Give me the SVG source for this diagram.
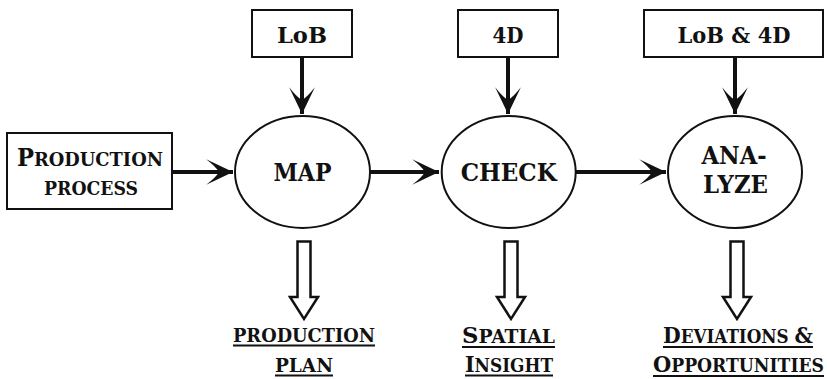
<svg xmlns="http://www.w3.org/2000/svg" width="827" height="379" viewBox="0 0 827 379">
<defs>
<style>
.box{fill:#fff;stroke:#111;stroke-width:2}
.ell{fill:#fff;stroke:#111;stroke-width:2}
.t{font-family:'DejaVu Serif',serif;font-weight:bold;fill:#111;text-anchor:middle}
.conn{stroke:#111;stroke-width:4;fill:none}
.hollow{fill:#fff;stroke:#111;stroke-width:2.5;stroke-linejoin:miter}
.ul{stroke:#111;stroke-width:2}
</style>
<marker id="ah" markerUnits="userSpaceOnUse" markerWidth="30" markerHeight="30" viewBox="-26 -14 28 28" refX="0" refY="0" orient="auto">
<path d="M0,0 L-25,-12 Q-16,-5 -13,0 Q-16,5 -25,12 Z" fill="#111"/>
</marker>
</defs>
<rect width="827" height="379" fill="#fff"/>
<g id="connectors">
<line class="conn" x1="172" y1="172" x2="233" y2="172" marker-end="url(#ah)"/>
<line class="conn" x1="370" y1="172" x2="439" y2="172" marker-end="url(#ah)"/>
<line class="conn" x1="576" y1="172" x2="666" y2="172" marker-end="url(#ah)"/>
<line class="conn" x1="302" y1="57" x2="302" y2="114" marker-end="url(#ah)"/>
<line class="conn" x1="508" y1="57" x2="508" y2="114" marker-end="url(#ah)"/>
<line class="conn" x1="735" y1="57" x2="735" y2="114" marker-end="url(#ah)"/>
<polygon class="hollow" points="297.5,241.5 310.5,241.5 310.5,297 318,297 304,319 290,297 297.5,297"/>
<polygon class="hollow" points="504.5,241.5 517.5,241.5 517.5,297 525,297 511,319 497,297 504.5,297"/>
<polygon class="hollow" points="730.5,241.5 743.5,241.5 743.5,297 751,297 737,319 723,297 730.5,297"/>
</g>
<g id="production-process">
<rect class="box" x="7" y="133" width="165" height="76"/>
<text class="t" x="90" y="166" font-size="18.5" textLength="146" lengthAdjust="spacingAndGlyphs"><tspan font-size="23.5">P</tspan>RODUCTION</text>
<text class="t" x="91" y="195" font-size="18.5" textLength="94" lengthAdjust="spacingAndGlyphs">PROCESS</text>
</g>
<g id="lob">
<rect class="box" x="252" y="10" width="100" height="47"/>
<text class="t" x="302" y="43" font-size="23" textLength="50" lengthAdjust="spacingAndGlyphs">LoB</text>
</g>
<g id="fourd">
<rect class="box" x="458" y="10" width="100" height="47"/>
<text class="t" x="508" y="43" font-size="23" textLength="31" lengthAdjust="spacingAndGlyphs">4D</text>
</g>
<g id="lob-4d">
<rect class="box" x="644" y="10" width="179" height="47"/>
<text class="t" x="734" y="43" font-size="23" textLength="113" lengthAdjust="spacingAndGlyphs">LoB &amp; 4D</text>
</g>
<g id="map">
<ellipse class="ell" cx="302.5" cy="172" rx="67.5" ry="56"/>
<text class="t" x="302.5" y="180.5" font-size="23.5" textLength="58" lengthAdjust="spacingAndGlyphs">MAP</text>
</g>
<g id="check">
<ellipse class="ell" cx="508.7" cy="172" rx="67" ry="56"/>
<text class="t" x="508.7" y="180.5" font-size="23.5" textLength="96" lengthAdjust="spacingAndGlyphs">CHECK</text>
</g>
<g id="analyze">
<ellipse class="ell" cx="735" cy="172" rx="67" ry="56"/>
<text class="t" x="734" y="164" font-size="23.5" textLength="65" lengthAdjust="spacingAndGlyphs">ANA-</text>
<text class="t" x="735.5" y="193" font-size="23.5" textLength="65" lengthAdjust="spacingAndGlyphs">LYZE</text>
</g>
<g id="production-plan">
<text class="t" x="304" y="341.5" font-size="18.8" textLength="142" lengthAdjust="spacingAndGlyphs">PRODUCTION</text>
<line class="ul" x1="233" y1="345.5" x2="375" y2="345.5"/>
<text class="t" x="304" y="371.5" font-size="18.8" textLength="58" lengthAdjust="spacingAndGlyphs">PLAN</text>
<line class="ul" x1="275" y1="375.5" x2="333" y2="375.5"/>
</g>
<g id="spatial-insight">
<text class="t" x="508.5" y="343" font-size="18.5" textLength="93" lengthAdjust="spacingAndGlyphs"><tspan font-size="22.5">S</tspan>PATIAL</text>
<line class="ul" x1="462" y1="347" x2="555" y2="347"/>
<text class="t" x="509" y="371.5" font-size="18.5" textLength="88" lengthAdjust="spacingAndGlyphs"><tspan font-size="22.5">I</tspan>NSIGHT</text>
<line class="ul" x1="465" y1="375.5" x2="553" y2="375.5"/>
</g>
<g id="deviations-opportunities">
<text class="t" x="738" y="343" font-size="18.5" textLength="150" lengthAdjust="spacingAndGlyphs"><tspan font-size="22.5">D</tspan>EVIATIONS <tspan font-size="22.5">&amp;</tspan></text>
<line class="ul" x1="663" y1="347" x2="813" y2="347"/>
<text class="t" x="738.5" y="371.5" font-size="18.5" textLength="171" lengthAdjust="spacingAndGlyphs"><tspan font-size="22.5">O</tspan>PPORTUNITIES</text>
<line class="ul" x1="653" y1="376" x2="824" y2="376"/>
</g>
</svg>
